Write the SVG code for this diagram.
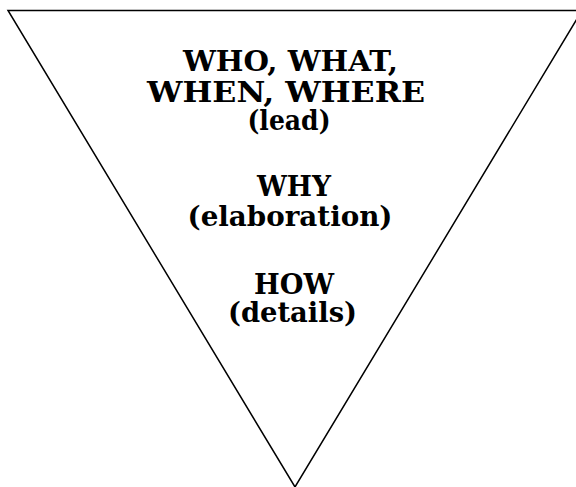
<svg xmlns="http://www.w3.org/2000/svg" width="576" height="487" viewBox="0 0 576 487">
<style>
.t{font-family:"DejaVu Serif","Liberation Serif",serif;font-weight:bold;font-size:28px;fill:#000;text-anchor:middle}
</style>
<rect width="576" height="487" fill="#fff"/>
<g id="funnel">
<polygon points="8,10.5 582,10.5 295,487" fill="#fff" stroke="#000" stroke-width="1.5"/>
</g>
<g id="lead">
<text class="t" x="290.5" y="71" textLength="215" lengthAdjust="spacingAndGlyphs">WHO, WHAT,</text>
<text class="t" x="286" y="102" textLength="278" lengthAdjust="spacingAndGlyphs">WHEN, WHERE</text>
<text class="t" x="289" y="130" textLength="83" lengthAdjust="spacingAndGlyphs">(lead)</text>
</g>
<g id="why">
<text class="t" x="294" y="196" textLength="74" lengthAdjust="spacingAndGlyphs">WHY</text>
<text class="t" x="290" y="226" textLength="205" lengthAdjust="spacingAndGlyphs">(elaboration)</text>
</g>
<g id="how">
<text class="t" x="294" y="294" textLength="80" lengthAdjust="spacingAndGlyphs">HOW</text>
<text class="t" x="292.5" y="322" textLength="129" lengthAdjust="spacingAndGlyphs">(details)</text>
</g>
</svg>
